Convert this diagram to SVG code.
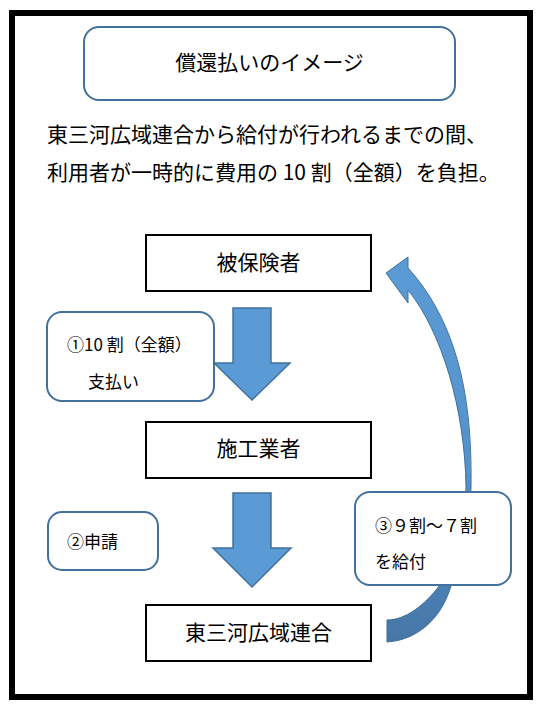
<svg xmlns="http://www.w3.org/2000/svg" width="548" height="712" viewBox="0 0 548 712">
<defs>
<style>
.t{font-family:"Noto Sans CJK JP","Noto Sans",sans-serif;fill:#000}
.rb{fill:#fff;stroke:#41719C;stroke-width:2}
.bx{fill:#fff;stroke:#000;stroke-width:2}
.ar{fill:#5B9BD5;stroke:#41719C;stroke-width:1.5;stroke-linejoin:miter}
</style>
<linearGradient id="cg" x1="0" y1="260" x2="0" y2="645" gradientUnits="userSpaceOnUse">
<stop offset="0" stop-color="#5B9BD5"/>
<stop offset="0.55" stop-color="#5592CB"/>
<stop offset="1" stop-color="#4676A6"/>
</linearGradient>
</defs>
<rect width="548" height="712" fill="#fff"/>
<rect x="12" y="13" width="518" height="684" fill="none" stroke="#000" stroke-width="6"/>

<g id="title">
<rect class="rb" x="84" y="27" width="371" height="73" rx="15"/>
<text class="t" x="269.5" y="70" font-size="21" text-anchor="middle">償還払いのイメージ</text>
</g>

<g id="desc">
<text class="t" x="47" y="142" font-size="21">東三河広域連合から給付が行われるまでの間、</text>
<text class="t" x="47" y="180" font-size="21">利用者が一時的に費用の 10 割（全額）を負担。</text>
</g>

<g id="connectors">
<path class="ar" d="M233,308 H271 V363 H290 L252,400 L214,363 H233 Z"/>
<path class="ar" d="M233,493 H271 V548 H291 L252,587 L213,548 H233 Z"/>
<path fill="url(#cg)" stroke="#41719C" stroke-width="1" d="M387,642 C420,640 444,615 452,582 C462,545 471,515 471,487 C472,415 464,330 408,268 L408,257 L386,273 L408,303 L408,290 C442,332 465,410 466,487 C466,522 455,560 440,585 C424,606 405,620 387,620 Z"/>
</g>

<g id="hihokensha">
<rect class="bx" x="146" y="235" width="225" height="56"/>
<text class="t" x="258.5" y="270" font-size="21" text-anchor="middle">被保険者</text>
</g>

<g id="label1">
<rect class="rb" x="47" y="312" width="167" height="89" rx="15"/>
<text class="t" x="67" y="351" font-size="17">①10 割（全額）</text>
<text class="t" x="88" y="388" font-size="17">支払い</text>
</g>

<g id="sekougyousha">
<rect class="bx" x="146" y="422" width="225" height="56"/>
<text class="t" x="258.5" y="456" font-size="21" text-anchor="middle">施工業者</text>
</g>

<g id="label2">
<rect class="rb" x="48" y="512" width="110" height="58" rx="14"/>
<text class="t" x="67" y="548" font-size="17">②申請</text>
</g>

<g id="label3">
<rect class="rb" x="355" y="492" width="156" height="93" rx="15"/>
<text class="t" x="375" y="532" font-size="17">③９割～７割</text>
<text class="t" x="375" y="568" font-size="17">を給付</text>
</g>

<g id="rengo">
<rect class="bx" x="146" y="605" width="225" height="56"/>
<text class="t" x="258.5" y="640" font-size="21" text-anchor="middle">東三河広域連合</text>
</g>
</svg>
